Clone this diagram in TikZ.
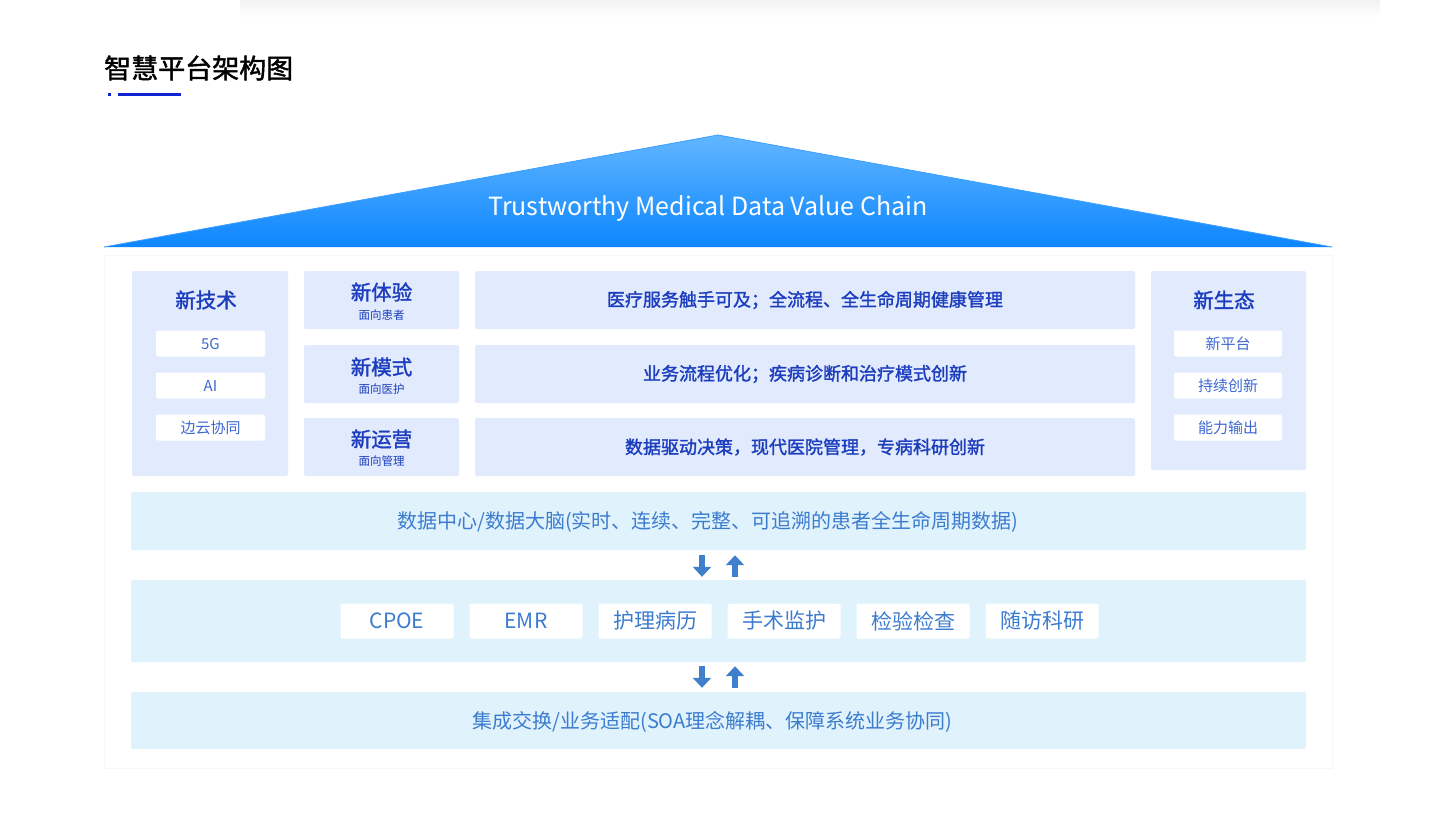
\documentclass[tikz,border=0pt]{standalone}
\usepackage{fontspec}
\setmainfont{Noto Sans CJK SC}
\newfontfamily\mediumfont[FakeBold=1.6]{Noto Sans CJK SC}
\usetikzlibrary{arrows.meta, positioning, shadows}
\usepackage{xcolor}
\definecolor{TitleBlue}{HTML}{1024D2}
\definecolor{RoofTop}{HTML}{62B6FF}
\definecolor{RoofBottom}{HTML}{0C86FF}
\definecolor{RoofEdge}{HTML}{3C9EFF}
\definecolor{PanelFill}{HTML}{E2EAFD}
\definecolor{DeepText}{HTML}{1C3EBE}
\definecolor{ChipText}{HTML}{3D68D2}
\definecolor{BandFill}{HTML}{E0F2FC}
\definecolor{BandText}{HTML}{3C7CCF}
\definecolor{ArrowBlue}{HTML}{3F7FCC}
\newcommand{\fsz}[1]{\fontsize{#1}{#1}\selectfont}
\tikzset{
    % Box styles
    card/.style={
        rectangle,
        fill=white,
        draw=black!3,
        drop shadow={opacity=0.12, shadow xshift=0pt, shadow yshift=-1pt}
    },
    pillar/.style={
        rectangle,
        rounded corners=2pt,
        fill=PanelFill,
        minimum width=156pt
    },
    pillartitle/.style={
        font=\fsz{20.5}\mediumfont,
        text=DeepText
    },
    tag/.style={
        rectangle,
        rounded corners=2pt,
        fill=white,
        minimum width=109pt,
        minimum height=26pt,
        font=\fsz{15},
        text=ChipText
    },
    facet/.style={
        rectangle,
        rounded corners=2pt,
        fill=PanelFill,
        minimum width=155pt,
        minimum height=58pt
    },
    facetsub/.style={
        font=\fsz{11.5},
        text=DeepText
    },
    goal/.style={
        rectangle,
        rounded corners=2pt,
        fill=PanelFill,
        minimum width=660pt,
        minimum height=58pt,
        font=\fsz{18}\mediumfont,
        text=DeepText
    },
    band/.style={
        rectangle,
        rounded corners=2pt,
        fill=BandFill,
        minimum width=1175pt
    },
    bandtext/.style={
        font=\fsz{20},
        text=BandText
    },
    system/.style={
        rectangle,
        rounded corners=2pt,
        fill=white,
        minimum width=113pt,
        minimum height=35pt,
        font=\fsz{21},
        text=BandText
    },
    % Arrow styles
    flow/.style={
        line width=6pt,
        draw=ArrowBlue,
        -{Triangle[width=18pt, length=10pt]}
    }
}
\begin{document}
\begin{tikzpicture}[x=1pt, y=-1pt]
    \useasboundingbox (0,0) rectangle (1439,815);
    \shade[top color=black!5, bottom color=white] (240,0) rectangle (1380,18);

    % Title
    \node[anchor=west, font=\fsz{27}\mediumfont, inner sep=0pt] (title) at (104,68) {智慧平台架构图};
    \fill[TitleBlue] (108,93) rectangle (111,96);
    \fill[TitleBlue] (118,93) rectangle (181,96);

    % Card and roof
    \node[card, minimum width=1228pt, minimum height=513pt] (card) at (718,511.5) {};
    \shade[top color=RoofTop, bottom color=RoofBottom] (104,247) -- (718,135) -- (1332,247) -- cycle;
    \draw[RoofEdge, line width=0.8pt] (104,247) -- (718,135) -- (1332,247);
    \node[font=\fsz{25}, text=white] (roof) at (708,208) {Trustworthy Medical Data Value Chain};

    % New technology
    \node[pillar, minimum height=205pt] (tech) at (210,373.5) {};
    \node[pillartitle] (techT) at (206,300) {新技术};
    \node[tag] (t5g) at (210.5,343.5) {5G};
    \node[tag] (tai) at (210.5,385.5) {AI};
    \node[tag] (tedge) at (210.5,427.5) {边云协同};

    % Facets
    \node[facet] (exp) at (381.5,300) {};
    \node[pillartitle] at ([yshift=8pt]exp.center) {新体验};
    \node[facetsub] at ([yshift=-15pt]exp.center) {面向患者};
    \node[facet] (mode) at (381.5,374) {};
    \node[pillartitle] at ([yshift=7pt]mode.center) {新模式};
    \node[facetsub] at ([yshift=-15pt]mode.center) {面向医护};
    \node[facet] (ops) at (381.5,447) {};
    \node[pillartitle] at ([yshift=8pt]ops.center) {新运营};
    \node[facetsub] at ([yshift=-14pt]ops.center) {面向管理};

    \node[goal] (g1) at (805,300) {医疗服务触手可及；全流程、全生命周期健康管理};
    \node[goal] (g2) at (805,374) {业务流程优化；疾病诊断和治疗模式创新};
    \node[goal] (g3) at (805,447) {数据驱动决策，现代医院管理，专病科研创新};

    % New ecosystem
    \node[pillar, minimum width=155pt, minimum height=199pt] (eco) at (1228.5,370.5) {};
    \node[pillartitle] (ecoT) at (1224,300) {新生态};
    \node[tag, minimum width=108pt] (e1) at (1228,343.5) {新平台};
    \node[tag, minimum width=108pt] (e2) at (1228,385.5) {持续创新};
    \node[tag, minimum width=108pt] (e3) at (1228,427.5) {能力输出};

    % Layers
    \node[band, minimum height=58pt] (data) at (718.5,521) {};
    \node[bandtext] (dataT) at (708,522) {数据中心/数据大脑(实时、连续、完整、可追溯的患者全生命周期数据)};
    \node[band, minimum height=82pt] (apps) at (718.5,621) {};
    \foreach \name [count=\i from 0] in {CPOE, EMR, 护理病历, 手术监护, 检验检查, 随访科研}
        \node[system] (s\i) at (397+129*\i,621) {\name};
    \node[band, minimum height=57pt] (base) at (718.5,720.5) {};
    \node[bandtext] (baseT) at (712.5,721.5) {集成交换/业务适配(SOA理念解耦、保障系统业务协同)};

    \draw[flow, shorten <=5pt, shorten >=3pt] ([xshift=-16.5pt]data.south) -- ([xshift=-16.5pt]apps.north);
    \draw[flow, shorten <=3pt, shorten >=5pt] ([xshift=16.5pt]apps.north) -- ([xshift=16.5pt]data.south);
    \draw[flow, shorten <=4pt, shorten >=4pt] ([xshift=-16.5pt]apps.south) -- ([xshift=-16.5pt]base.north);
    \draw[flow, shorten <=4pt, shorten >=4pt] ([xshift=16.5pt]base.north) -- ([xshift=16.5pt]apps.south);
\end{tikzpicture}
\end{document}
